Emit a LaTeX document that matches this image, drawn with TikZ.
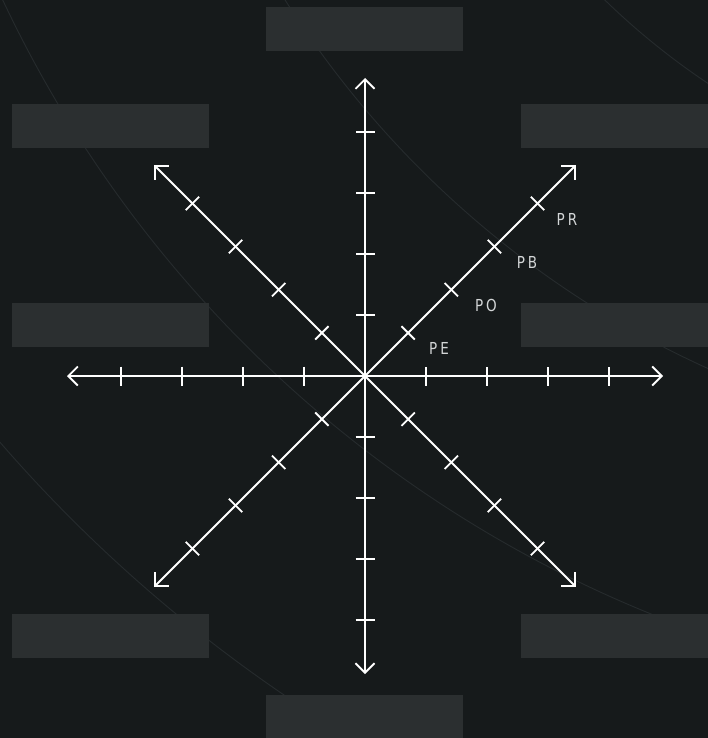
\documentclass[tikz,border=0pt]{standalone}
\usepackage{fontspec}
\usetikzlibrary{arrows.meta,calc}
\newfontfamily\lblfont[LetterSpace=18,FakeStretch=0.82]{DejaVu Sans}
\definecolor{bgc}{HTML}{161A1B}
\definecolor{boxc}{HTML}{2B2F30}
\definecolor{arcc}{HTML}{262B2D}
\definecolor{txtc}{HTML}{D3D6D7}
\tikzset{
  panel/.style={fill=boxc, draw=none, inner sep=0pt, minimum width=197pt, minimum height=43.7pt, anchor=north west},
  arcline/.style={draw=arcc, line width=0.9pt},
  axisline/.style={draw=white, line width=1.8pt, -{Straight Barb[length=9.5pt,width=19pt,line width=1.8pt]}},
  tickline/.style={draw=white, line width=1.8pt},
  lbl/.style={text=txtc, font=\lblfont\fontsize{16.5}{16.5}\selectfont, inner sep=0pt}
}
\begin{document}
\begin{tikzpicture}[x=1pt,y=-1pt]
\useasboundingbox (0,0) rectangle (708,738);
\fill[bgc] (0,0) rectangle (708,738);
\begin{scope}
\clip (0,0) rectangle (708,738);
% faint background arcs
\foreach \r in {725,975,1223,1469}
  \draw[arcline] (1110,-520) circle[radius=\r];
% panels
\node[panel] (ptop) at (266,7) {};
\node[panel] (pul) at (12,104) {};
\node[panel] (pur) at (521,104) {};
\node[panel] (pml) at (12,303) {};
\node[panel] (pmr) at (521,303) {};
\node[panel] (pbl) at (12,614) {};
\node[panel] (pbr) at (521,614) {};
\node[panel] (pbot) at (266,695) {};
\end{scope}
% axes
\coordinate (O) at (365,376);
\foreach \a in {0,45,...,315} {
  \coordinate (E\a) at ($(O)+(\a:298)$);
  \draw[axisline] (O) -- (E\a);
  \foreach \d in {61,122,183,244}
    \draw[tickline] ($(O)+(\a:\d)+(\a+90:9.5)$) -- ($(O)+(\a:\d)+(\a-90:9.5)$);
}
% labels
\node[lbl] (lPE) at (439,348) {PE};
\node[lbl] (lPO) at (486,305) {PO};
\node[lbl] (lPB) at (527,262) {PB};
\node[lbl] (lPR) at (567,219) {PR};
\end{tikzpicture}
\end{document}
